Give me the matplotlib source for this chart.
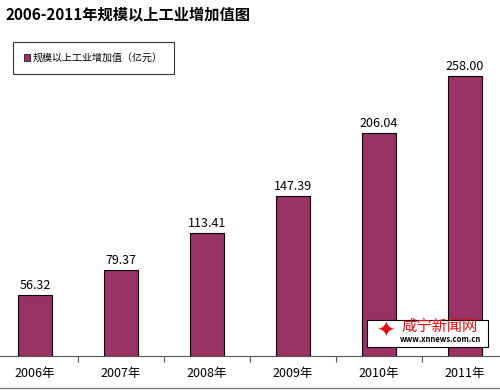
import matplotlib
matplotlib.use("Agg")
import matplotlib.pyplot as plt
from matplotlib.lines import Line2D
from matplotlib.patches import Rectangle

plt.rcParams['font.family'] = ['Noto Sans CJK SC', 'DejaVu Sans']

# 数据
years = ["2006年", "2007年", "2008年", "2009年", "2010年", "2011年"]
values = [56.32, 79.37, 113.41, 147.39, 206.04, 258.00]
series_name = "规模以上工业增加值（亿元）"
title = "2006-2011年规模以上工业增加值图"

BAR_COLOR = "#993366"
W, H = 500, 390

fig = plt.figure(figsize=(5, 3.9), dpi=100)
# Achsen etwas breiter als das Bild, wie im Original
ax = fig.add_axes([-8 / W, 1 - 356 / H, 516 / W, 325 / H])

x = list(range(len(years)))
bars = ax.bar(x, values, width=0.4, color=BAR_COLOR, edgecolor="black", linewidth=0.8)
for xi, v in zip(x, values):
    ax.text(xi, v + 3, f"{v:.2f}", ha="center", va="bottom", fontsize=9)

ax.set_xlim(-0.5, len(years) - 0.5)
ax.set_ylim(0, 300)
ax.set_xticks([i + 0.5 for i in x[:-1]])
ax.set_xticklabels([])
ax.set_xticks(x, minor=True)
ax.set_xticklabels(years, minor=True, fontsize=9)
ax.tick_params(axis="x", which="major", length=4, direction="out", color="#555555")
ax.tick_params(axis="x", which="minor", length=0, pad=8)
ax.set_yticks([])
for s in ["top", "right", "left"]:
    ax.spines[s].set_visible(False)
ax.spines["bottom"].set_color("#555555")

fig.text(5 / W, 1 - 14 / H, title, fontsize=11, fontweight="bold", va="center", ha="left")

# Legende
handle = Rectangle((0, 0), 1, 1, facecolor=BAR_COLOR, edgecolor="black", linewidth=0.5)
leg = fig.legend([handle], [series_name], loc="upper left",
                 bbox_to_anchor=(13 / W, 1 - 42 / H), fontsize=7.2,
                 frameon=True, fancybox=False, handlelength=0.6, handleheight=0.6,
                 handletextpad=0.3, borderpad=1.1, borderaxespad=0)
leg.get_frame().set_edgecolor("black")
leg.get_frame().set_linewidth(0.8)

# Wasserzeichen
fig.add_artist(Rectangle((367 / W, 1 - 347 / H), 121 / W, 27 / H, transform=fig.transFigure,
                         facecolor="white", edgecolor="black", linewidth=0.8))
fig.text(440 / W, 1 - 326 / H, "咸宁新闻网", fontsize=11, color="#e01010",
         ha="center", va="center")
fig.text(440 / W, 1 - 340 / H, "www.xnnews.com.cn", fontsize=5.5, color="black",
         ha="center", va="center", fontweight="bold")
fig.text(385 / W, 1 - 332 / H, "✦", fontsize=16, color="#e01010",
         ha="center", va="center", family="DejaVu Sans")

# untere Linie
fig.add_artist(Line2D([0, 1], [1 - 388 / H, 1 - 388 / H], color="#777777", linewidth=1))

fig.savefig("out.png", dpi=100)
